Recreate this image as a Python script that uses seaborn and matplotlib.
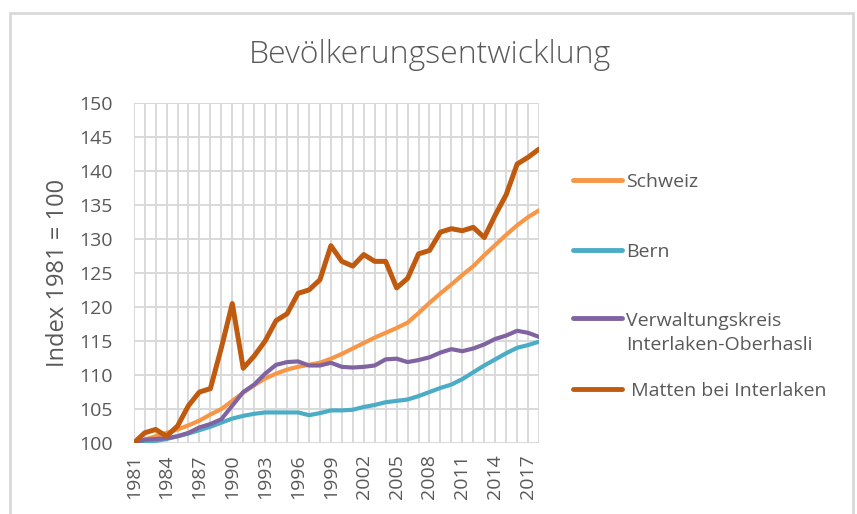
import pandas as pd
import numpy as np
import seaborn as sns
import matplotlib.pyplot as plt
from matplotlib.patches import Rectangle
from matplotlib.lines import Line2D

years = list(range(1981, 2019))

schweiz = [100, 100.5, 101, 101.5, 102, 102.6, 103.3, 104.2, 105, 106.2,
           107.4, 108.5, 109.5, 110.2, 110.8, 111.2, 111.5, 111.8, 112.4, 113.1,
           113.9, 114.7, 115.5, 116.2, 116.9, 117.7, 119.1, 120.6, 122, 123.3,
           124.7, 126, 127.6, 129.1, 130.6, 132, 133.2, 134.2]
bern = [100, 100.1, 100.3, 100.6, 101, 101.4, 101.9, 102.4, 103, 103.6,
        104, 104.3, 104.5, 104.5, 104.5, 104.5, 104.1, 104.4, 104.8, 104.8,
        104.9, 105.3, 105.6, 106, 106.2, 106.4, 106.9, 107.5, 108.1, 108.6,
        109.4, 110.4, 111.4, 112.3, 113.2, 114, 114.4, 114.9]
verwaltungskreis = [100, 100.5, 100.6, 100.7, 101, 101.5, 102.3, 102.8, 103.5, 105.5,
                    107.5, 108.6, 110.2, 111.5, 111.9, 112, 111.4, 111.4, 111.8, 111.2,
                    111.1, 111.2, 111.4, 112.3, 112.4, 111.9, 112.2, 112.6, 113.3, 113.8,
                    113.5, 113.9, 114.5, 115.3, 115.8, 116.5, 116.2, 115.6]
matten = [100, 101.5, 102, 101, 102.5, 105.5, 107.5, 108, 114, 120.5,
          111, 112.8, 115, 118, 119, 122, 122.5, 124, 129, 126.7,
          126, 127.7, 126.7, 126.7, 122.8, 124.2, 127.8, 128.3, 131, 131.5,
          131.2, 131.7, 130.2, 133.5, 136.5, 141, 142, 143.2]

names = ["Schweiz", "Bern", "Verwaltungskreis\nInterlaken-Oberhasli", " Matten bei Interlaken"]
colors = ["#F79646", "#4BACC6", "#8064A2", "#BF5A0E"]

df = pd.DataFrame({
    "Jahr": years * 4,
    "Index": schweiz + bern + verwaltungskreis + matten,
    "Gebiet": np.repeat(names, len(years)),
})

sns.set_style("white")
plt.rcParams['font.family'] = ['Open Sans', 'DejaVu Sans']
grey = "#595959"

fig = plt.figure(figsize=(8.57, 5.14), dpi=100)
ax = fig.add_axes([0.156, 0.138, 0.473, 0.662])

for name, col in zip(names, colors):
    sub = df[df["Gebiet"] == name]
    lw = 3.6 if name.strip().startswith("Matten") else 3.0
    sns.lineplot(data=sub, x="Jahr", y="Index", color=col, linewidth=lw,
                 ax=ax, solid_capstyle="round", zorder=3, legend=False)

ax.set_xlim(1981, 2018)
ax.set_ylim(100, 150)
ax.set_yticks(range(100, 151, 5))
ax.set_xticks(years)
ax.set_xticklabels([str(y) if (y - 1981) % 3 == 0 else "" for y in years],
                   rotation=90)
ax.grid(True, color="#d9d9d9", linewidth=1.4)
ax.tick_params(axis="both", length=0, labelsize=14, colors=grey)
ax.tick_params(axis="y", pad=15)
ax.tick_params(axis="x", pad=8)
for s in ax.spines.values():
    s.set_visible(False)
ax.set_xlabel("")
ax.set_ylabel("Index 1981 = 100", fontsize=17, color=grey, labelpad=7)
fig.text(0.502, 0.893, "Bevölkerungsentwicklung", ha="center", va="center",
         fontsize=23, color=grey, fontweight="light")

handles = [Line2D([], [], color=c, linewidth=3.5, solid_capstyle="round") for c in colors]
leg_kw = dict(frameon=False, fontsize=14, labelcolor=grey, handlelength=2.5,
              handletextpad=0.25, borderpad=0, borderaxespad=0,
              bbox_transform=fig.transFigure)
leg1 = fig.legend(handles[:3], names[:3], loc="upper left",
                  bbox_to_anchor=(573 / 857, 1 - 173 / 514), labelspacing=2.65, **leg_kw)
leg1.get_texts()[2].set_linespacing(1.45)
l3 = leg1.get_lines()[2]
l3.set_ydata(np.array(l3.get_ydata()) + 11)
leg2 = fig.legend(handles[3:], names[3:], loc="center left",
                  bbox_to_anchor=(573 / 857, 1 - 391 / 514), **leg_kw)

fig.patches.append(Rectangle((0.012, -0.02), 0.983, 0.995, transform=fig.transFigure,
                             fill=False, edgecolor="#d9d9d9", linewidth=2))

fig.savefig("out.png", dpi=100)
